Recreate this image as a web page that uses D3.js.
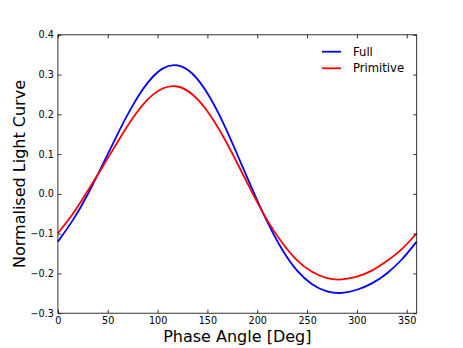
<!DOCTYPE html>
<html>
<head>
<meta charset="utf-8">
<script src="https://cdn.jsdelivr.net/npm/d3@7"></script>
<style>
    body { margin: 0; background: #fff; }
    text { font-family: "DejaVu Sans", sans-serif; fill: #000; }
</style>
</head>
<body>
<script>
//data, every 15 degrees
var phase = [0, 15, 30, 45, 60, 75, 90, 105, 120, 135, 150, 165, 180, 195, 210, 225, 240, 255, 270, 285, 300, 315, 330, 345, 360];
var fullCurve = [-0.120, -0.066, -0.001, 0.074, 0.151, 0.222, 0.279, 0.315, 0.323, 0.302, 0.253, 0.183, 0.099, 0.012, -0.070, -0.140, -0.193, -0.227, -0.245, -0.249, -0.241, -0.225, -0.200, -0.165, -0.120];
var primCurve = [-0.099, -0.050, 0.008, 0.069, 0.131, 0.190, 0.237, 0.265, 0.270, 0.250, 0.208, 0.148, 0.077, 0.003, -0.066, -0.123, -0.167, -0.196, -0.212, -0.215, -0.208, -0.193, -0.169, -0.139, -0.099];
var seriesNames = ["Full", "Primitive"];
var seriesColors = ["#0000ff", "#ff0000"];
var xTicks = [0, 50, 100, 150, 200, 250, 300, 350];
var yTicks = [-0.3, -0.2, -0.1, 0.0, 0.1, 0.2, 0.3, 0.4];

//SVG dimension variables (plot box edges)
var w = 463, h = 348;
var padL = 57.9, padR = 416.7, padT = 34.8, padB = 313.2;

window.onload = function(){
    var svg = d3.select("body")
        .append("svg")
        .attr("width", w)
        .attr("height", h);

    var x = d3.scaleLinear()
        .domain([0, 360])
        .range([padL, padR]);

    var y = d3.scaleLinear()
        .domain([-0.3, 0.4])
        .range([padB, padT]);

    //tick label format with a real minus sign
    var fmt = function(d){ return d3.format(".1f")(d).replace("-", "\u2212"); };

    //curves
    var series = [fullCurve, primCurve];
    var line = d3.line()
        .x(function(d){ return x(d[0]); })
        .y(function(d){ return y(d[1]); })
        .curve(d3.curveNatural);

    svg.append("g")
        .selectAll("path")
        .data(series)
        .enter()
        .append("path")
        .attr("d", function(s){
            return line(phase.map(function(p, i){ return [p, s[i]]; }));
        })
        .style("fill", "none")
        .style("stroke", function(d, i){ return seriesColors[i]; })
        .style("stroke-width", 1.8);

    //axes, ticks pointing inward on all four sides
    var tickLen = 3.5;
    var bottomAxis = svg.append("g")
        .attr("transform", "translate(0," + padB + ")")
        .call(d3.axisBottom(x).tickValues(xTicks).tickSizeInner(-tickLen).tickSizeOuter(0).tickPadding(4));
    var topAxis = svg.append("g")
        .attr("transform", "translate(0," + padT + ")")
        .call(d3.axisTop(x).tickValues(xTicks).tickSizeInner(-tickLen).tickSizeOuter(0).tickFormat(""));
    var leftAxis = svg.append("g")
        .attr("transform", "translate(" + padL + ",0)")
        .call(d3.axisLeft(y).tickValues(yTicks).tickSizeInner(-tickLen).tickSizeOuter(0).tickPadding(4).tickFormat(fmt));
    var rightAxis = svg.append("g")
        .attr("transform", "translate(" + padR + ",0)")
        .call(d3.axisRight(y).tickValues(yTicks).tickSizeInner(-tickLen).tickSizeOuter(0).tickFormat(""));

    [bottomAxis, topAxis, leftAxis, rightAxis].forEach(function(a){
        a.select(".domain").remove();
        a.selectAll("line").style("stroke", "#000").style("stroke-width", 0.8);
        a.selectAll("text")
            .style("font-family", "'DejaVu Sans', sans-serif")
            .style("font-size", "9.65px")
            .style("fill", "#000");
    });

    //frame
    svg.append("rect")
        .attr("x", padL)
        .attr("y", padT)
        .attr("width", padR - padL)
        .attr("height", padB - padT)
        .style("fill", "none")
        .style("stroke", "#000")
        .style("stroke-width", 0.8);

    //axis titles
    svg.append("text")
        .attr("x", (padL + padR) / 2)
        .attr("y", 342)
        .attr("text-anchor", "middle")
        .style("font-size", "16px")
        .text("Phase Angle [Deg]");

    svg.append("text")
        .attr("transform", "translate(25," + (padT + padB) / 2 + ") rotate(-90)")
        .attr("text-anchor", "middle")
        .style("font-size", "16px")
        .text("Normalised Light Curve");

    //legend, no frame
    var legend = svg.selectAll(".legend")
        .data(seriesNames)
        .enter()
        .append("g")
        .attr("class", "legend")
        .attr("transform", function(d, i){ return "translate(322," + (51.7 + i * 16.6) + ")"; });

    legend.append("line")
        .attr("x1", 0)
        .attr("x2", 19)
        .style("stroke", function(d, i){ return seriesColors[i]; })
        .style("stroke-width", 1.8);

    legend.append("text")
        .attr("x", 31)
        .attr("y", 4)
        .style("font-size", "11.6px")
        .text(function(d){ return d; });
};
</script>
</body>
</html>
